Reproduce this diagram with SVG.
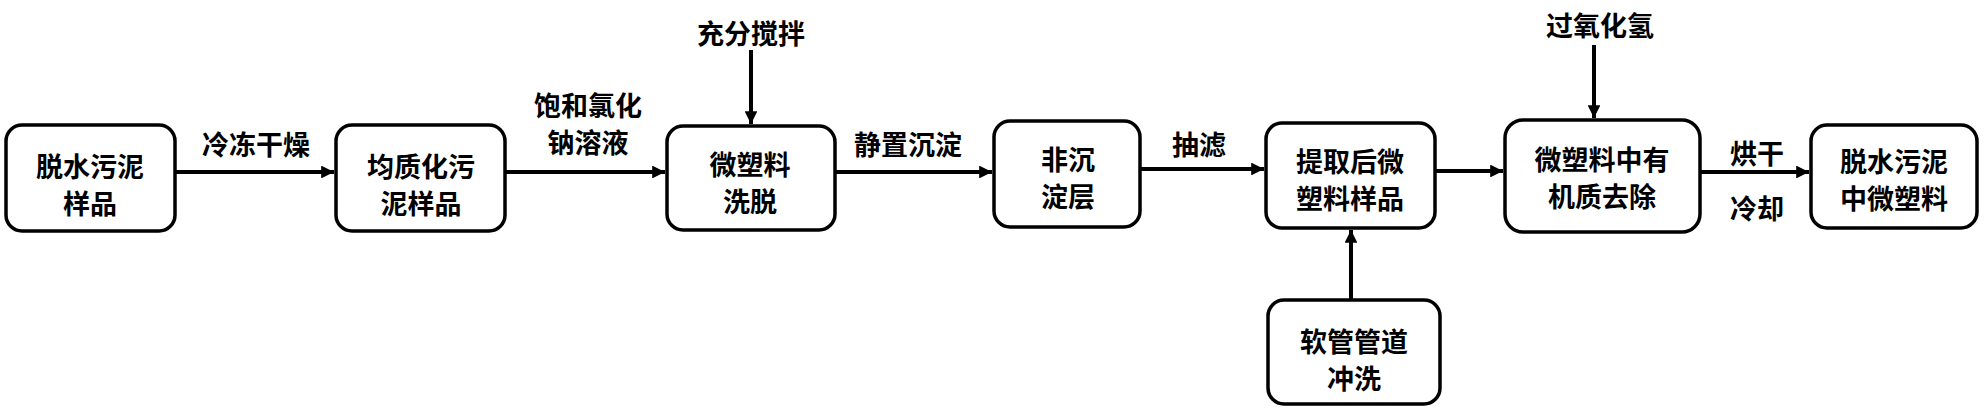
<svg xmlns="http://www.w3.org/2000/svg" width="1984" height="410" viewBox="0 0 1984 410">
<style>
.box{fill:#fff;stroke:#000;stroke-width:3.5}
.t{font-family:"Noto Sans CJK SC","Noto Sans",sans-serif;font-size:27px;font-weight:bold;fill:#000;text-anchor:middle;dominant-baseline:central}
.c{fill:none;stroke:#000;stroke-width:4}
</style>
<defs>
<marker id="ah" viewBox="0 0 10 10" refX="10" refY="5" markerWidth="3.4" markerHeight="3.2" markerUnits="strokeWidth" orient="auto">
<path d="M0,0 L10,5 L0,10 z" fill="#000"/>
</marker>
</defs>
<rect width="1984" height="410" fill="#fff"/>
<g id="n1"><rect class="box" x="6" y="125" width="169" height="106" rx="16"/><text class="t" x="90" y="165">脱水污泥</text><text class="t" x="90" y="202">样品</text></g>
<g id="n2"><rect class="box" x="336" y="125" width="169" height="106" rx="16"/><text class="t" x="421" y="165">均质化污</text><text class="t" x="421" y="202">泥样品</text></g>
<g id="n3"><rect class="box" x="667" y="126" width="168" height="104" rx="16"/><text class="t" x="750" y="163">微塑料</text><text class="t" x="750" y="200">洗脱</text></g>
<g id="n4"><rect class="box" x="994" y="121" width="146" height="106" rx="16"/><text class="t" x="1068" y="158">非沉</text><text class="t" x="1068" y="195">淀层</text></g>
<g id="n5"><rect class="box" x="1266" y="123" width="169" height="105" rx="16"/><text class="t" x="1350" y="160">提取后微</text><text class="t" x="1350" y="197">塑料样品</text></g>
<g id="n6"><rect class="box" x="1268" y="300" width="172" height="104" rx="16"/><text class="t" x="1354" y="340">软管管道</text><text class="t" x="1354" y="377">冲洗</text></g>
<g id="n7"><rect class="box" x="1505" y="120" width="195" height="112" rx="18"/><text class="t" x="1602" y="158">微塑料中有</text><text class="t" x="1602" y="195">机质去除</text></g>
<g id="n8"><rect class="box" x="1811" y="125" width="166" height="103" rx="16"/><text class="t" x="1894" y="160">脱水污泥</text><text class="t" x="1894" y="197">中微塑料</text></g>
<g id="connectors">
<line class="c" x1="175" y1="172" x2="334" y2="172" marker-end="url(#ah)"/>
<line class="c" x1="505" y1="172" x2="665" y2="172" marker-end="url(#ah)"/>
<line class="c" x1="751" y1="50" x2="751" y2="124" stroke-width="3" marker-end="url(#ah)"/>
<line class="c" x1="835" y1="172" x2="992" y2="172" marker-end="url(#ah)"/>
<line class="c" x1="1140" y1="169" x2="1264" y2="169" marker-end="url(#ah)"/>
<line class="c" x1="1351" y1="300" x2="1351" y2="230" marker-end="url(#ah)"/>
<line class="c" x1="1435" y1="171" x2="1503" y2="171" marker-end="url(#ah)"/>
<line class="c" x1="1594" y1="45" x2="1594" y2="118" marker-end="url(#ah)"/>
<line class="c" x1="1700" y1="172" x2="1809" y2="172" marker-end="url(#ah)"/>
</g>
<g id="labels">
<text class="t" x="256" y="143">冷冻干燥</text>
<text class="t" x="588" y="104">饱和氯化</text>
<text class="t" x="588" y="141">钠溶液</text>
<text class="t" x="751" y="32">充分搅拌</text>
<text class="t" x="908" y="143">静置沉淀</text>
<text class="t" x="1199" y="143">抽滤</text>
<text class="t" x="1600" y="24">过氧化氢</text>
<text class="t" x="1757" y="152">烘干</text>
<text class="t" x="1757" y="207">冷却</text>
</g>
</svg>
